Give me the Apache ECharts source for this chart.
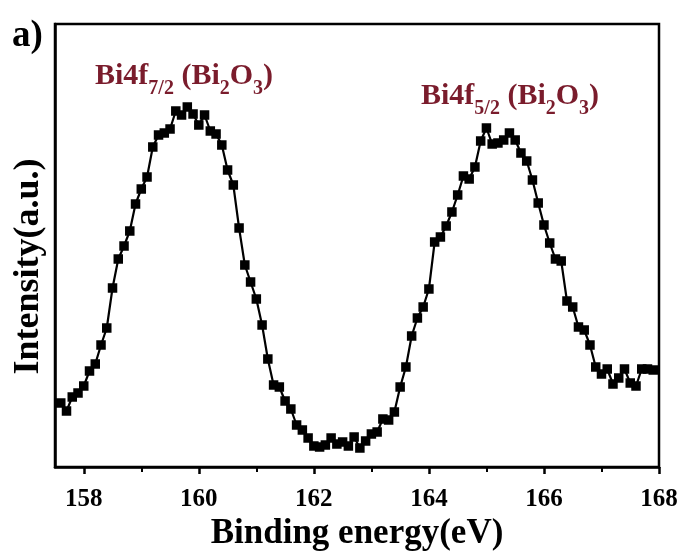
<!DOCTYPE html>
<html>
<head>
<meta charset="utf-8">
<script src="https://cdn.jsdelivr.net/npm/echarts@6/dist/echarts.min.js"></script>
<style>
html,body{margin:0;padding:0;background:#fff;}
#chart{width:684px;height:552px;}
</style>
</head>
<body>
<div id="chart"></div>
<script>
// Binding energy (eV)
var energy = [
157.6,157.7,157.8,157.9,158.0,158.1,158.2,158.3,158.4,158.5,
158.6,158.7,158.8,158.9,159.0,159.1,159.2,159.3,159.4,159.5,
159.6,159.7,159.8,159.9,160.0,160.1,160.2,160.3,160.4,160.5,
160.6,160.7,160.8,160.9,161.0,161.1,161.2,161.3,161.4,161.5,
161.6,161.7,161.8,161.9,162.0,162.1,162.2,162.3,162.4,162.5,
162.6,162.7,162.8,162.9,163.0,163.1,163.2,163.3,163.4,163.5,
163.6,163.7,163.8,163.9,164.0,164.1,164.2,164.3,164.4,164.5,
164.6,164.7,164.8,164.9,165.0,165.1,165.2,165.3,165.4,165.5,
165.6,165.7,165.8,165.9,166.0,166.1,166.2,166.3,166.4,166.5,
166.6,166.7,166.8,166.9,167.0,167.1,167.2,167.3,167.4,167.5,
167.6,167.7,167.8,167.9
];
// Intensity (a.u.)
var intensity = [
64,56,70,74,81,96,103,122,139,179,
208,221,236,263,278,290,320,332,334,338,
356,352,360,353,342,352,336,333,322,297,
282,239,202,185,168,142,108,82,80,66,
58,42,37,29,21,20,22,29,23,25,
21,30,19,26,33,35,48,47,55,80,
100,131,149,160,178,225,230,241,255,272,
291,288,300,326,339,323,324,327,334,327,
314,306,287,264,242,224,208,206,166,160,
140,137,122,100,93,98,83,89,98,84,
81,98,98,97
];
var majorTicks = [158,160,162,164,166,168];
var minorTicks = [159,161,163,165,167];
var xMin = 157.5, xMax = 168;
var yMin = 0, yMax = 443;
var peakLabels = [
  {text:'{m|Bi4f}{s|7/2}{m| (Bi}{s|2}{m|O}{s|3}{m|)}', left:95, top:61},
  {text:'{m|Bi4f}{s|5/2}{m| (Bi}{s|2}{m|O}{s|3}{m|)}', left:421, top:81}
];

var serif = '"Liberation Serif","Times New Roman",serif';
var red = '#7a1c2c';
var points = energy.map(function(e,i){return [e,intensity[i]];});

var chart = echarts.init(document.getElementById('chart'), null, {renderer:'canvas'});
chart.setOption({
  animation:false,
  backgroundColor:'#fff',
  title:{text:'a)', left:7, top:13, textStyle:{fontFamily:serif, fontWeight:'bold', fontSize:37, color:'#000'}},
  grid:{left:55, right:25, top:24, bottom:85, outerBoundsMode:'none', containLabel:false, show:true, borderColor:'#000', borderWidth:2.5, backgroundColor:'transparent'},
  xAxis:[{
    type:'value', min:xMin, max:xMax, position:'bottom',
    name:'Binding energy(eV)', nameLocation:'middle', nameGap:46,
    nameTextStyle:{fontFamily:serif, fontWeight:'bold', fontSize:35, color:'#000'},
    axisLine:{show:true, lineStyle:{color:'#000', width:2.5}},
    axisTick:{show:true, customValues:majorTicks, length:7, inside:false, lineStyle:{color:'#000', width:2.5}},
    axisLabel:{show:true, customValues:majorTicks, margin:20, fontFamily:serif, fontWeight:'bold', fontSize:25, color:'#000'},
    splitLine:{show:false}
  },{
    type:'value', min:xMin, max:xMax, position:'bottom',
    axisLine:{show:false},
    axisTick:{show:true, customValues:minorTicks, length:5, inside:false, lineStyle:{color:'#000', width:2}},
    axisLabel:{show:false},
    splitLine:{show:false}
  }],
  yAxis:{
    type:'value', min:yMin, max:yMax,
    name:'Intensity(a.u.)', nameLocation:'middle', nameGap:8, nameRotate:90,
    nameTextStyle:{fontFamily:serif, fontWeight:'bold', fontSize:36, color:'#000', padding:[0,42,0,0]},
    axisLine:{show:true, lineStyle:{color:'#000', width:2.5}},
    axisTick:{show:false}, axisLabel:{show:false}, splitLine:{show:false}
  },
  graphic: peakLabels.map(function(p){
    return {type:'text', left:p.left, top:p.top, style:{
      text:p.text, fill:red,
      rich:{
        m:{fontFamily:serif, fontWeight:'bold', fontSize:30, lineHeight:32, verticalAlign:'top', fill:red, color:red},
        s:{fontFamily:serif, fontWeight:'bold', fontSize:20, lineHeight:20, verticalAlign:'top', padding:[18,0,0,0], fill:red, color:red}
      }
    }};
  }),
  series:[{
    type:'line', xAxisIndex:0, yAxisIndex:0, data:points,
    symbol:'rect', symbolSize:9.5, showSymbol:true,
    lineStyle:{color:'#000', width:2.2},
    itemStyle:{color:'#000', borderWidth:0}
  }]
});
</script>
</body>
</html>
